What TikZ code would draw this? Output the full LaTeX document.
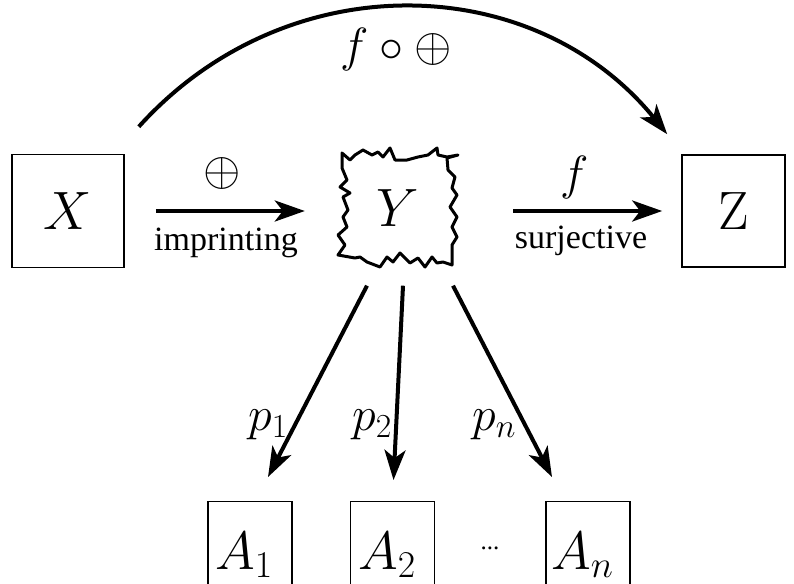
\RequirePackage{fix-cm}
\documentclass[tikz,border=0pt]{standalone}
\usepackage{fontspec}
\newfontfamily\tnr{Liberation Serif}
\usetikzlibrary{arrows.meta}
\begin{document}
\begin{tikzpicture}[x=1pt,y=-1pt,
  box/.style={draw, line width=1.6pt, inner sep=0pt},
  abox/.style={draw, line width=1.3pt, minimum width=84pt, minimum height=100pt, anchor=north, inner sep=0pt},
  arr/.style={line width=4pt, -{Stealth[length=30pt,width=21pt,inset=8pt]}},
  big/.style={font=\fontsize{54}{60}\selectfont, inner sep=0pt},
  mlab/.style={font=\fontsize{48}{56}\selectfont, inner sep=0pt},
  tlab/.style={font=\fontsize{34}{40}\selectfont\tnr, inner sep=0pt, anchor=base},
  jag/.style={line width=3pt, line join=round, line cap=round}]
\useasboundingbox (0,0) rectangle (794,583);
\clip (0,0) rectangle (794,583);
% main nodes
\node[box,big,minimum width=112pt,minimum height=113pt] (X) at (68,211) {$X$};
\node[box,big,minimum width=103pt,minimum height=112pt] (Z) at (733.5,211) {Z};
\node[big,minimum width=120pt,minimum height=118pt] (Y) at (398,208.5) {$Y$};
% jagged outline of Y
\draw[jag] (350,160) -- (355,155) -- (363,150) -- (372,155) -- (378,152) -- (383,157) -- (390,148) -- (395,160) -- (407,160) -- (418,157) -- (428,155) -- (437,148) -- (438,155) -- (447,157) -- (458,155)
  -- (447,158) -- (448,170) -- (455,177) -- (452,188) -- (457,195) -- (450,207) -- (457,217) -- (452,227) -- (457,237) -- (452,245) -- (452,265)
  -- (443,262) -- (437,263) -- (432,257) -- (425,267) -- (418,258) -- (410,263) -- (400,253) -- (393,262) -- (387,257) -- (380,267) -- (367,262) -- (360,257) -- (355,258) -- (338,255)
  -- (345,245) -- (338,235) -- (347,227) -- (343,217) -- (348,210) -- (343,197) -- (350,193) -- (340,187) -- (347,180) -- (342,168) -- (342,153) -- cycle;
% bottom boxes
\node[abox] (A1) at (250,501) {};
\node[abox] (A2) at (392.5,501) {};
\node[abox] (An) at (588,501) {};
\node[big,anchor=base west] (a1) at (215,569) {$A_1$};
\node[big,anchor=base west] (a2) at (358,569) {$A_2$};
\node[big,anchor=base west] (an) at (551,569) {$A_n$};
\node[font=\fontsize{25}{30}\selectfont\tnr, inner sep=0pt, anchor=base] (dots) at (490,549) {...};
% connectors
\draw[arr, shorten <=31pt, shorten >=33pt] (X.east) -- (X.east -| Y.west);
\draw[arr, shorten <=55pt, shorten >=19pt] (Z.west -| Y.east) -- (Z.west);
\draw[arr] ([shift={(14pt,27pt)}]X.north east) .. controls +(148,-164) and +(-133,-164) .. ([shift={(-14pt,20pt)}]Z.north west);
\draw[arr, shorten >=27pt] ([xshift=-31pt,yshift=-18pt]Y.south) -- ([xshift=5.6pt]A1.north);
\draw[arr, shorten >=21pt] ([xshift=5pt,yshift=-18pt]Y.south) -- (A2.north);
\draw[arr, shorten >=27pt] ([xshift=55pt,yshift=-18pt]Y.south) -- ([xshift=-23.6pt]An.north);
% labels
\node[mlab] (lcomp) at (396,50) {$f\circ\oplus$};
\node[mlab] (lplus) at (222,173) {$\oplus$};
\node[mlab, anchor=base] (lf) at (575,189) {$f$};
\node[tlab] (limp) at (226,250) {imprinting};
\node[tlab] (lsur) at (581,248) {surjective};
\node[mlab, anchor=base west] (p1) at (248,430) {$p_1$};
\node[mlab, anchor=base west] (p2) at (352,430) {$p_2$};
\node[mlab, anchor=base west] (pn) at (472,430) {$p_n$};
\end{tikzpicture}
\end{document}
